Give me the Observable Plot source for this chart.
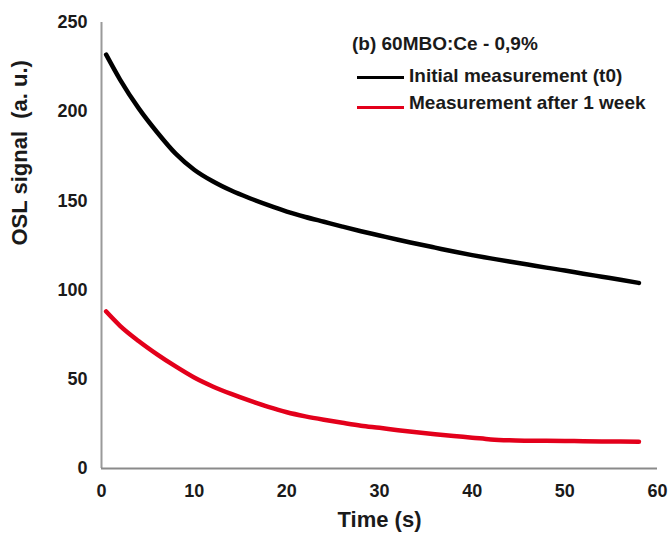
<!DOCTYPE html>
<html>
<head>
<meta charset="utf-8">
<script src="https://cdn.jsdelivr.net/npm/d3@7"></script>
<script src="https://cdn.jsdelivr.net/npm/@observablehq/plot@0.6"></script>
<style>
  body { margin: 0; background: #fff; }
  #wrap { position: relative; width: 668px; height: 541px; font-family: "Liberation Sans", Arial, sans-serif; }
  .leg { position: absolute; font-weight: bold; font-size: 19px; color: #1a1a1a; white-space: nowrap; line-height: 1; }
  .sw { position: absolute; height: 3px; width: 47px; }
</style>
</head>
<body>
<div id="wrap"></div>
<script>
const time = [0.5, 2, 4, 6, 8, 10, 12, 14, 16, 18, 20, 22, 24, 26, 28, 30, 32, 34, 36, 38, 40, 42, 44, 46, 48, 50, 52, 54, 56, 58];
const initial = [232, 218, 202, 188.5, 176.5, 167.5, 161, 155.8, 151.5, 147.6, 144, 141, 138.3, 135.6, 133, 130.6, 128.2, 126, 123.8, 121.6, 119.6, 117.8, 116, 114.3, 112.6, 111, 109.2, 107.5, 105.8, 104];
const afterWeek = [88, 80, 71.5, 64, 57.2, 51, 46, 41.8, 38, 34.5, 31.5, 29.2, 27.3, 25.6, 24, 22.8, 21.5, 20.3, 19.2, 18.2, 17.3, 16.3, 15.8, 15.6, 15.5, 15.4, 15.3, 15.2, 15.1, 15];
const seriesNames = ["Initial measurement (t0)", "Measurement after 1 week"];
const seriesColors = ["#000000", "#e3001b"];
const xTicks = [0, 10, 20, 30, 40, 50, 60];
const yTicks = [0, 50, 100, 150, 200, 250];
const title = "(b) 60MBO:Ce - 0,9%";
const xLabel = "Time (s)";
const yLabel = "OSL signal  (a. u.)";

const data = [];
time.forEach((t, i) => {
  data.push({t, v: initial[i], s: seriesNames[0]});
  data.push({t, v: afterWeek[i], s: seriesNames[1]});
});

const chart = Plot.plot({
  width: 668,
  height: 541,
  marginLeft: 101,
  marginRight: 11,
  marginTop: 22,
  marginBottom: 73,
  style: {fontFamily: '"Liberation Sans", Arial, sans-serif', fontSize: "18px", fontWeight: "bold", color: "#1a1a1a", background: "#fff"},
  x: {domain: [0, 60], ticks: xTicks, tickSize: 0, tickPadding: 16, label: null},
  y: {domain: [0, 250], ticks: yTicks, tickSize: 0, tickPadding: 14, label: null},
  color: {domain: seriesNames, range: seriesColors},
  marks: [
    Plot.ruleX([0], {stroke: "#9a9a9a", strokeWidth: 2}),
    Plot.ruleY([0], {stroke: "#8a8a8a", strokeWidth: 2}),
    Plot.line(data, {x: "t", y: "v", z: "s", stroke: "s", strokeWidth: 4.5, curve: "monotone-x"}),
    Plot.text([xLabel], {frameAnchor: "bottom", dy: 58, fontSize: 22, fontWeight: "bold", fill: "#1a1a1a"}),
    Plot.text([yLabel], {frameAnchor: "left", dx: -82, rotate: -90, fontSize: 22, fontWeight: "bold", fill: "#1a1a1a"})
  ]
});
const wrap = document.getElementById("wrap");
wrap.appendChild(chart);

function addText(txt, left, top) {
  const d = document.createElement("div");
  d.className = "leg"; d.textContent = txt;
  d.style.left = left + "px"; d.style.top = top + "px";
  wrap.appendChild(d);
}
function addSwatch(color, left, top) {
  const d = document.createElement("div");
  d.className = "sw"; d.style.background = color;
  d.style.left = left + "px"; d.style.top = top + "px";
  wrap.appendChild(d);
}
addText(title, 352, 34);
addSwatch(seriesColors[0], 357, 76);
addText(seriesNames[0], 409, 66);
addSwatch(seriesColors[1], 357, 106);
addText(seriesNames[1], 409, 93);
</script>
</body>
</html>
